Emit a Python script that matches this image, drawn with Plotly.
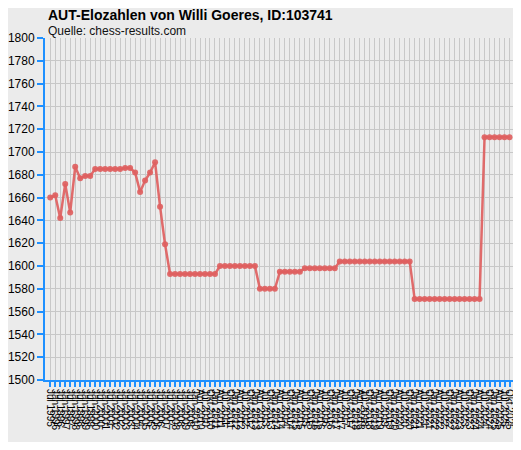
"""AUT rating history chart (chess-results style) rebuilt with Plotly."""

import plotly.graph_objects as go

TITLE = "AUT-Elozahlen von Willi Goeres, ID:103741"
SUBTITLE = "Quelle: chess-results.com"

# rating list dates (half-yearly first, quarterly from 2010)
LIST_DATES = [
    "Jul 1995",
    "Jan 1996", "Jul 1996", "Jan 1997", "Jul 1997", "Jan 1998", "Jul 1998",
    "Jan 1999", "Jul 1999", "Jan 2000", "Jul 2000", "Jan 2001", "Jul 2001",
    "Jan 2002", "Jul 2002", "Jan 2003", "Jul 2003", "Jan 2004", "Jul 2004",
    "Jan 2005", "Jul 2005", "Jan 2006", "Jul 2006", "Jan 2007", "Jul 2007",
    "Jan 2008", "Jul 2008", "Jan 2009", "Jul 2009", "Jan 2010",
    "Apr 2010", "Jul 2010", "Okt 2010",
    "Jan 2011", "Apr 2011", "Jul 2011", "Okt 2011",
    "Jan 2012", "Apr 2012", "Jul 2012", "Okt 2012",
    "Jan 2013", "Apr 2013", "Jul 2013", "Okt 2013",
    "Jan 2014", "Apr 2014", "Jul 2014", "Okt 2014",
    "Jan 2015", "Apr 2015", "Jul 2015", "Okt 2015",
    "Jan 2016", "Apr 2016", "Jul 2016", "Okt 2016",
    "Jan 2017", "Apr 2017", "Jul 2017", "Okt 2017",
    "Jan 2018", "Apr 2018", "Jul 2018", "Okt 2018",
    "Jan 2019", "Apr 2019", "Jul 2019", "Okt 2019",
    "Jan 2020", "Apr 2020", "Jul 2020", "Okt 2020",
    "Jan 2021", "Apr 2021", "Jul 2021", "Okt 2021",
    "Jan 2022", "Apr 2022", "Jul 2022", "Okt 2022",
    "Jan 2023", "Apr 2023", "Jul 2023", "Okt 2023",
    "Jan 2024", "Apr 2024", "Jul 2024", "Okt 2024",
    "Jan 2025", "Apr 2025", "Jul 2025", "Okt 2025",
]

ELO = [
    1660, 1662, 1642, 1672, 1647, 1687, 1677, 1679, 1679, 1685,
    1685, 1685, 1685, 1685, 1685, 1686, 1686, 1682, 1665, 1675,
    1682, 1691, 1652, 1619,
    1593, 1593, 1593, 1593, 1593, 1593, 1593, 1593, 1593, 1593,
    1600, 1600, 1600, 1600, 1600, 1600, 1600, 1600,
    1580, 1580, 1580, 1580,
    1595, 1595, 1595, 1595, 1595,
    1598, 1598, 1598, 1598, 1598, 1598, 1598,
    1604, 1604, 1604, 1604, 1604, 1604, 1604, 1604, 1604, 1604,
    1604, 1604, 1604, 1604, 1604,
    1571, 1571, 1571, 1571, 1571, 1571, 1571, 1571, 1571, 1571,
    1571, 1571, 1571, 1571,
    1713, 1713, 1713, 1713, 1713, 1713,
]

AXIS_BLUE = "#1e90ff"
LINE_RED = "rgba(222, 96, 96, 0.92)"
GRID = "#c8c8c8"
BG = "#ebebeb"
FONT = "Liberation Sans, Arial, sans-serif"

fig = go.Figure()
fig.add_trace(
    go.Scatter(
        x=LIST_DATES,
        y=ELO,
        mode="lines+markers",
        line={"color": LINE_RED, "width": 2.5},
        marker={"color": LINE_RED, "size": 6, "symbol": "circle"},
        hovertemplate="%{x}: %{y}<extra></extra>",
        showlegend=False,
    )
)

# the page body keeps its default 8px margin, so the figure is sized to fit the window
fig.update_layout(
    width=513,
    height=434,
    margin={"l": 37, "r": 4, "t": 30, "b": 62},
    paper_bgcolor=BG,
    plot_bgcolor="#ececec",
    font={"family": FONT, "color": "#111111", "size": 12},
    annotations=[
        {
            "text": f"<b>{TITLE}</b>",
            "xref": "paper", "yref": "paper",
            "x": 0.002, "y": 1.066,
            "xanchor": "left", "yanchor": "middle",
            "showarrow": False,
            "font": {"size": 14, "family": FONT, "color": "#000000"},
        },
        {
            "text": SUBTITLE,
            "xref": "paper", "yref": "paper",
            "x": 0.002, "y": 1.021,
            "xanchor": "left", "yanchor": "middle",
            "showarrow": False,
            "font": {"size": 12, "family": FONT, "color": "#111111"},
        },
    ],
)

fig.update_xaxes(
    type="category",
    range=[-1.05, 93.5],
    tickmode="linear",
    dtick=1,
    tickangle=90,
    tickfont={"size": 10, "family": FONT, "color": "#000000"},
    ticks="outside",
    ticklen=5,
    tickwidth=2,
    tickcolor=AXIS_BLUE,
    showline=True,
    linecolor=AXIS_BLUE,
    linewidth=2,
    showgrid=True,
    gridcolor=GRID,
    gridwidth=1,
    automargin=False,
)
fig.update_yaxes(
    range=[1500, 1800],
    dtick=20,
    tickfont={"size": 12, "family": FONT, "color": "#000000"},
    ticks="outside",
    ticklen=6,
    tickwidth=2,
    tickcolor=AXIS_BLUE,
    showline=True,
    linecolor=AXIS_BLUE,
    linewidth=2,
    showgrid=True,
    gridcolor=GRID,
    gridwidth=1,
    zeroline=False,
    automargin=False,
)

fig.write_html("out.html")
